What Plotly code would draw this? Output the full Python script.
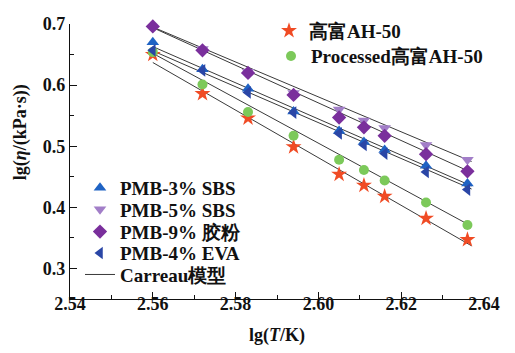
import plotly.graph_objects as go

# lg(T/K) for 90,100,110,120,130,135,140,150,160 °C
lgT = [2.560, 2.572, 2.583, 2.594, 2.605, 2.611, 2.616, 2.626, 2.636]

ah50 = [0.650, 0.586, 0.546, 0.499, 0.454, 0.436, 0.418, 0.382, 0.347]
ah50_proc = [0.654, 0.601, 0.556, 0.517, 0.478, 0.461, 0.444, 0.408, 0.371]
sbs3 = [0.670, 0.626, 0.594, 0.557, 0.525, 0.507, 0.494, 0.468, 0.439]
sbs5 = [0.703, 0.659, 0.622, 0.587, 0.560, 0.542, 0.530, 0.502, 0.478]
crumb9 = [0.696, 0.657, 0.620, 0.584, 0.547, 0.531, 0.517, 0.487, 0.459]
eva4 = [0.657, 0.624, 0.588, 0.555, 0.521, 0.502, 0.488, 0.458, 0.429]

# Carreau model fit lines: value at start/end of the fitted range
fit_x = [2.560, 2.637]
fit_start = [0.637, 0.652, 0.663, 0.695, 0.694, 0.656]
fit_end = [0.337, 0.369, 0.435, 0.475, 0.457, 0.430]

names = ["高富AH-50", "Processed高富AH-50", "PMB-3% SBS", "PMB-5% SBS",
         "PMB-9% 胶粉", "PMB-4% EVA", "Carreau模型"]

FONT = "Liberation Serif"

# plot area in pixels (for legend placement)
L, R, T, B = 70, 484, 19, 301
W_PX, H_PX = R - L, B - T


def px2paper(mx, my):
    return (mx - L) / W_PX, (B - my) / H_PX


# legend row anchor points (marker centre, px)
legend_pos = [(289, 26), (291, 52), (100, 187), (100, 209), (100, 232),
              (100, 254), (100, 276)]

fig = go.Figure()

lx, ly = [], []
for s, e in zip(fit_start, fit_end):
    lx += [fit_x[0], fit_x[1], None]
    ly += [s, e, None]
fig.add_trace(go.Scatter(x=lx, y=ly, mode="lines",
                         line=dict(color="#3a3a3a", width=1),
                         name=names[6], legend="legend7"))

series = [
    (ah50, "star", "#f04b24", 12),
    (ah50_proc, "circle", "#7cc95a", 10),
    (sbs3, "triangle-up", "#1f63c4", 11),
    (sbs5, "triangle-down", "#a27ec8", 11),
    (crumb9, "diamond", "#7a2f9c", 11),
    (eva4, "triangle-left", "#2a46a6", 11),
]
for i, (ys, sym, col, sz) in enumerate(series):
    fig.add_trace(go.Scatter(x=lgT, y=ys, mode="markers", name=names[i],
                             cliponaxis=False,
                             marker=dict(symbol=sym, color=col, size=sz,
                                         line=dict(width=0)),
                             legend="legend" if i == 0 else f"legend{i + 1}"))

legend_cfg = {}
for i, (mx, my) in enumerate(legend_pos):
    x, y = px2paper(mx - 20, my)
    key = "legend" if i == 0 else f"legend{i + 1}"
    legend_cfg[key] = dict(x=x, y=y, xanchor="left", yanchor="middle",
                           bgcolor="rgba(0,0,0,0)", borderwidth=0,
                           font=dict(family=FONT, size=19, weight="bold",
                                     color="#111"),
                           itemwidth=30)

ytx, yty = px2paper(20, 130)

fig.update_layout(
    width=515, height=353,
    showlegend=True,
    margin=dict(l=L, r=515 - R, t=T, b=353 - B),
    plot_bgcolor="white", paper_bgcolor="white",
    font=dict(family=FONT, size=18, color="#111"),
    **legend_cfg,
    xaxis=dict(range=[2.54, 2.64], dtick=0.02, tick0=2.54, tickformat=".2f",
               showgrid=False, zeroline=False, showline=True,
               linecolor="#111", linewidth=1.2,
               ticks="inside", ticklen=7, tickcolor="#111",
               ticklabelstandoff=-12,
               tickfont=dict(family=FONT, size=18, weight="bold"),
               minor=dict(ticks="inside", dtick=0.01, ticklen=4,
                          tickcolor="#111"),
               title=dict(text="lg(<i>T</i>/K)", standoff=15,
                          font=dict(family=FONT, size=18, weight="bold"))),
    yaxis=dict(range=[0.25, 0.7], dtick=0.1, tick0=0.3, tickformat=".1f",
               showgrid=False, zeroline=False, showline=True,
               linecolor="#111", linewidth=1.2,
               ticks="inside", ticklen=7, tickcolor="#111",
               tickfont=dict(family=FONT, size=18, weight="bold"),
               minor=dict(ticks="inside", dtick=0.05, ticklen=4,
                          tickcolor="#111")),
    annotations=[dict(text="lg(<i>η</i>/(kPa·s))", xref="paper",
                      yref="paper", x=ytx, y=yty, textangle=-90,
                      showarrow=False, xanchor="center", yanchor="middle",
                      font=dict(family=FONT, size=18, weight="bold",
                                color="#111"))],
)

fig.write_html("out.html")
